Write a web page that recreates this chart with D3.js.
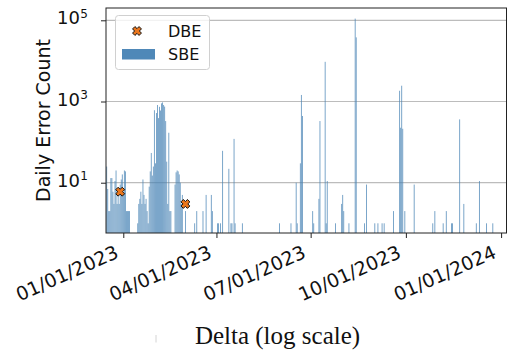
<!DOCTYPE html>
<html><head><meta charset="utf-8">
<script src="https://cdn.jsdelivr.net/npm/d3@7"></script>
<style>html,body{margin:0;padding:0;background:#fff;} svg{display:block;}</style>
</head><body>
<svg id="chart" width="508" height="353"></svg>
<script>
// ---- data ----
const sbeDates = [
  "2022-12-16","2022-12-17","2022-12-18","2022-12-19","2022-12-20","2022-12-21","2022-12-22","2022-12-23",
  "2022-12-24","2022-12-25","2022-12-26","2022-12-27","2022-12-28","2022-12-29","2022-12-30","2022-12-31",
  "2023-01-01","2023-01-02","2023-01-03","2023-01-04","2023-01-05","2023-01-06","2023-01-07",
  "2023-01-15","2023-01-16","2023-01-17","2023-01-18","2023-01-19","2023-01-20","2023-01-21","2023-01-22",
  "2023-01-23","2023-01-24","2023-01-25","2023-01-26","2023-01-27","2023-01-28","2023-01-29","2023-01-30",
  "2023-01-31","2023-02-01","2023-02-02","2023-02-03","2023-02-04","2023-02-05","2023-02-06","2023-02-07",
  "2023-02-08","2023-02-09","2023-02-10","2023-02-11","2023-02-12","2023-02-13","2023-02-14","2023-02-15",
  "2023-02-16","2023-02-20","2023-02-21","2023-02-22","2023-02-23","2023-02-24","2023-02-25","2023-02-26",
  "2023-02-27","2023-03-02","2023-03-11","2023-03-13","2023-03-19","2023-03-22","2023-03-27","2023-03-28",
  "2023-04-02","2023-04-03","2023-04-05","2023-04-07","2023-04-13","2023-04-15","2023-04-16","2023-04-18",
  "2023-04-19","2023-04-26",
  "2023-06-01","2023-06-12","2023-06-17","2023-06-18","2023-06-21","2023-06-22","2023-06-23","2023-07-03",
  "2023-07-04","2023-07-09","2023-07-10","2023-07-15","2023-07-16","2023-07-17","2023-07-25","2023-07-31",
  "2023-08-01","2023-08-02","2023-08-07","2023-08-13","2023-08-14","2023-08-22","2023-08-24","2023-09-01",
  "2023-09-04","2023-09-08","2023-09-10","2023-09-19","2023-09-25","2023-09-26","2023-09-27","2023-09-28",
  "2023-09-30","2023-10-09","2023-10-27","2023-10-29","2023-11-06","2023-11-09","2023-11-14","2023-11-15",
  "2023-11-22","2023-11-26","2023-12-08","2023-12-11","2023-12-18","2023-12-24"
];
const sbeValues = [
  25, 7, 2, 2, 13, 13, 6, 3,
  11, 20, 3, 5, 3, 9, 12, 16,
  5, 20, 19, 2, 2, 2, 2,
  1, 3, 4, 6, 3, 12, 5, 3,
  4, 2, 1, 8, 19, 54, 15, 25,
  610, 30, 520, 820, 390, 740, 600, 900,
  950, 820, 750, 330, 33, 3, 170, 2,
  2, 9, 18, 20, 19, 16, 10, 3,
  5, 2, 1, 2, 2, 5, 5, 2,
  1, 1, 1, 61, 22, 1, 1, 120,
  1, 1,
  1, 1, 10, 1, 30, 1450, 440, 2,
  1, 4, 330, 9500, 1, 11, 1, 3,
  5, 2, 1, 110000, 38000, 1, 9, 1,
  1, 1, 1, 2, 1840, 226, 2450, 213,
  2, 9, 1, 2, 1, 2, 1, 1,
  363, 3, 1, 11, 1, 1
];
const dbeDates = ["2022-12-29", "2023-03-02"];
const dbeValues = [6, 3];
const xTickDates = ["2023-01-01", "2023-04-01", "2023-07-01", "2023-10-01", "2024-01-01"];
const xTickLabels = ["01/01/2023", "04/01/2023", "07/01/2023", "10/01/2023", "01/01/2024"];
const yTickValues = [10, 1000, 100000];
const yTickExponents = ["1", "3", "5"];
const xDomain = ["2022-12-15T07:12:00Z", "2024-01-06T05:00:00Z"];
const yDomain = [0.577, 201000];

// ---- layout ----
const svg = d3.select("#chart");
const L = 106, R = 506.5, T = 8, B = 233;
const parse = d3.utcParse("%Y-%m-%d");
const x = d3.scaleUtc().domain(xDomain.map(s => new Date(s))).range([L, R]);
const y = d3.scaleLog().domain(yDomain).range([B, T]);
const steel = "#4682b4", orange = "#ea761c";

svg.append("defs").append("clipPath").attr("id", "clip")
  .append("rect").attr("x", L).attr("y", T).attr("width", R - L).attr("height", B - T);

// grid
svg.append("g").selectAll("line").data(yTickValues).join("line")
  .attr("x1", L).attr("x2", R).attr("y1", d => y(d)).attr("y2", d => y(d))
  .attr("stroke", "#bcbcbc").attr("stroke-width", 1.2);

// bars
const sbe = sbeDates.map((d, i) => ({ date: parse(d), value: sbeValues[i] }));
const dayW = x(new Date(Date.UTC(2023, 0, 2))) - x(new Date(Date.UTC(2023, 0, 1)));
const bw = dayW * 0.75;
svg.append("g").attr("clip-path", "url(#clip)").selectAll("rect").data(sbe).join("rect")
  .attr("x", d => x(d.date) - bw / 2).attr("width", bw)
  .attr("y", d => y(d.value)).attr("height", d => B - y(d.value))
  .attr("fill", steel).attr("fill-opacity", 0.92);

// X marker path
function xMarker(a, t) {
  const pts = [[t,a],[t,t],[a,t],[a,-t],[t,-t],[t,-a],[-t,-a],[-t,-t],[-a,-t],[-a,t],[-t,t],[-t,a]];
  const c = Math.SQRT1_2;
  return "M" + pts.map(([px, py]) => [(px - py) * c, (px + py) * c].map(v => v.toFixed(2)).join(",")).join("L") + "Z";
}
const mk = xMarker(4.6, 1.7);

const dbe = dbeDates.map((d, i) => ({ date: parse(d), value: dbeValues[i] }));
svg.append("g").selectAll("path").data(dbe).join("path")
  .attr("d", mk).attr("transform", d => `translate(${x(d.date)},${y(d.value)})`)
  .attr("fill", orange).attr("stroke", "#111").attr("stroke-width", 1);

// spines
svg.append("rect").attr("x", L).attr("y", T).attr("width", R - L).attr("height", B - T)
  .attr("fill", "none").attr("stroke", "#222").attr("stroke-width", 1);

// x axis
const xTicks = xTickDates.map(parse);
const xAxis = svg.append("g").attr("transform", `translate(0,${B})`)
  .call(d3.axisBottom(x).tickValues(xTicks).tickSize(5).tickFormat((d, i) => xTickLabels[i]));
xAxis.select(".domain").remove();
xAxis.selectAll(".tick line").attr("stroke", "#222");
xAxis.selectAll(".tick text")
  .attr("font-family", "DejaVu Sans").attr("font-size", 19).attr("fill", "#111")
  .attr("text-anchor", "end").attr("y", 0).attr("dy", 0)
  .attr("transform", "translate(-4,24) rotate(-24)");

// y axis
const yAxis = svg.append("g").attr("transform", `translate(${L},0)`)
  .call(d3.axisLeft(y).tickValues(yTickValues).tickSize(5).tickFormat(""));
yAxis.select(".domain").remove();
yAxis.selectAll(".tick line").attr("stroke", "#222");
yAxis.selectAll(".tick").each(function (d, i) {
  const t = d3.select(this).append("text").attr("fill", "#111")
    .attr("font-family", "DejaVu Sans").attr("text-anchor", "end")
    .attr("x", -18).attr("y", 0).attr("dy", "0.36em");
  t.append("tspan").attr("font-size", 18).text("10");
  t.append("tspan").attr("font-size", 12).attr("dx", 0.5).attr("dy", -6.5).text(yTickExponents[i]);
});

// y label
svg.append("text").attr("transform", `translate(50,${(T + B) / 2}) rotate(-90)`)
  .attr("text-anchor", "middle").attr("font-family", "DejaVu Sans").attr("font-size", 19)
  .attr("fill", "#111").text("Daily Error Count");

// x label
svg.append("text").attr("x", 277.5).attr("y", 344).attr("text-anchor", "middle")
  .attr("font-family", "Liberation Serif").attr("font-size", 25).attr("fill", "#111")
  .text("Delta (log scale)");
svg.append("line").attr("x1", 156).attr("x2", 156).attr("y1", 335).attr("y2", 342.5)
  .attr("stroke", "#d4d4d4").attr("stroke-width", 1);

// legend
const lg = svg.append("g");
lg.append("rect").attr("x", 115.5).attr("y", 15.5).attr("width", 94).attr("height", 54).attr("rx", 3)
  .attr("fill", "#fff").attr("fill-opacity", 0.8).attr("stroke", "#d0d0d0").attr("stroke-width", 1);
lg.append("path").attr("d", mk).attr("transform", "translate(137,31)")
  .attr("fill", orange).attr("stroke", "#111").attr("stroke-width", 1);
lg.append("rect").attr("x", 122).attr("y", 49).attr("width", 33).attr("height", 10.5)
  .attr("fill", steel).attr("fill-opacity", 0.95);
lg.append("text").attr("x", 168).attr("y", 37).attr("font-family", "DejaVu Sans").attr("font-size", 16)
  .attr("fill", "#111").text("DBE");
lg.append("text").attr("x", 168).attr("y", 60).attr("font-family", "DejaVu Sans").attr("font-size", 16)
  .attr("fill", "#111").text("SBE");
</script>
</body></html>
